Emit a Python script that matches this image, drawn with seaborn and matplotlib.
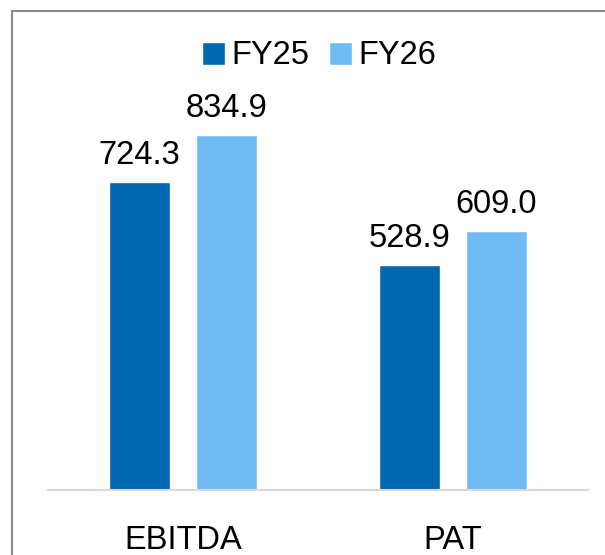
import pandas as pd
import matplotlib.pyplot as plt
import matplotlib.patches as mpatches
import seaborn as sns

# values
metrics = ["EBITDA", "PAT"]
fy25 = [724.3, 528.9]
fy26 = [834.9, 609.0]
years = ["FY25", "FY26"]
colors = ["#0068b1", "#70bcf2"]

df = pd.DataFrame({
    "Metric": metrics * 2,
    "Year": [years[0]] * len(metrics) + [years[1]] * len(metrics),
    "Value": fy25 + fy26,
})

sns.set_style("white")
plt.rcParams["font.family"] = ["Liberation Sans", "DejaVu Sans"]
plt.rcParams["text.color"] = "black"
plt.rcParams["xtick.color"] = "black"

fig = plt.figure(figsize=(6.05, 5.55), dpi=100)
ax = fig.add_axes([48 / 605, 65 / 555, 540 / 605, 410 / 555])

sns.barplot(data=df, x="Metric", y="Value", hue="Year", palette=colors,
            width=0.644, gap=0.3, saturation=1, ax=ax)

for cont in ax.containers:
    ax.bar_label(cont, fmt="%.1f", padding=8, fontsize=23.5, color="black")

ax.set_ylim(0, 410 / 0.425)
ax.set_xlabel("")
ax.set_ylabel("")
ax.set_yticks([])
ax.tick_params(axis="x", length=0, pad=25, labelsize=23.5, labelcolor="black")
for side in ["top", "right", "left"]:
    ax.spines[side].set_visible(False)
ax.spines["bottom"].set_color("#d9d9d9")
ax.spines["bottom"].set_linewidth(1.5)

leg = ax.legend(loc="center", bbox_to_anchor=(319 / 605, 1 - 56 / 555),
                bbox_transform=fig.transFigure, ncol=2, frameon=False,
                fontsize=23.5, handlelength=0.7, handleheight=0.7,
                handletextpad=0.2, columnspacing=0.6)
for t in leg.get_texts():
    t.set_color("black")

# outer frame, running off the right and bottom edges
fig.patches.append(mpatches.Rectangle((12 / 605, -0.1), 1.2, 1 - 11 / 555 + 0.1,
                                      transform=fig.transFigure, fill=False,
                                      edgecolor="#8c8c8c", linewidth=1.5))

fig.savefig("out.png", dpi=100)
